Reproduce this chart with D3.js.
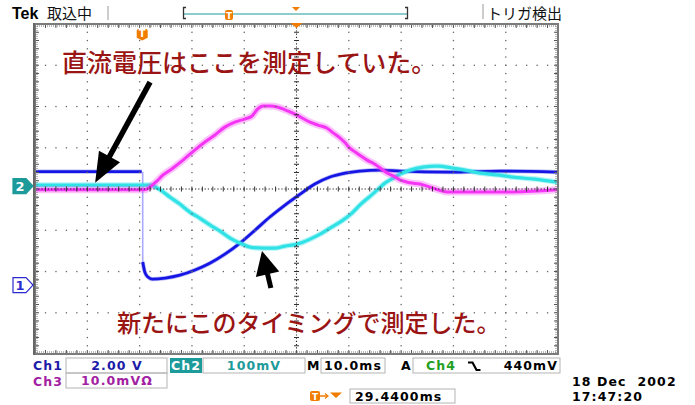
<!DOCTYPE html>
<html>
<head>
<meta charset="utf-8">
<script src="https://cdn.jsdelivr.net/npm/d3@7"></script>
<style>
  body { margin: 0; background: #fff; }
  svg { display: block; }
  text { white-space: pre; }
</style>
</head>
<body>
<svg id="scope" width="695" height="405"></svg>
<script>
// Time base: 10 ms/div, 10 divisions shown; trigger point at 20.5 ms.
const timeSpan = [0, 100];
const triggerTime = 20.5;

// Ch1 (V): supply voltage, before and after the step at the trigger
const ch1Before = [[0, 5.5], [20.4, 5.5]];
const ch1After = [
  [20.6, 1.12], [21.0, 0.63], [21.6, 0.39], [22.4, 0.29], [24.9, 0.34],
  [27.7, 0.48], [30.6, 0.73], [33.5, 1.07], [36.3, 1.50], [39.2, 2.04],
  [42.1, 2.67], [44.9, 3.30], [47.8, 3.88], [50.7, 4.41], [53.5, 4.90],
  [56.4, 5.24], [59.3, 5.43], [62.1, 5.53], [66.0, 5.58], [69.8, 5.53],
  [79.3, 5.48], [88.9, 5.53], [99.8, 5.48]
];

// Ch2 (mV)
const ch2Values = [
  [0, 2.4], [22.0, 2.4], [24.0, -9.7], [25.8, -26.7], [27.7, -43.6],
  [29.6, -63.0], [31.5, -77.6], [33.5, -94.5], [35.4, -109.1], [37.3, -126.1],
  [39.2, -138.2], [41.1, -147.9], [43.6, -150.3], [45.9, -150.3], [47.8, -145.4],
  [50.1, -140.6], [52.6, -128.5], [54.5, -116.4], [56.4, -101.8], [58.9, -82.4],
  [60.6, -65.4], [62.1, -46.1], [64.1, -24.2], [65.4, -9.7], [66.9, 7.3],
  [68.5, 19.4], [69.8, 29.1], [71.7, 38.8], [74.2, 46.1], [76.9, 48.5],
  [79.9, 43.6], [83.2, 36.4], [85.1, 31.5], [88.9, 26.7], [91.4, 21.8],
  [95.6, 17.0], [99.8, 9.7]
];

// Ch3 (mV)
const ch3Values = [
  [0, -0.2], [21.0, -0.2], [22.0, 0.5], [23.3, 1.9], [24.5, 3.4],
  [26.4, 5.1], [28.3, 7.0], [30.6, 9.5], [32.5, 11.4], [34.4, 13.1],
  [36.3, 15.0], [38.2, 16.2], [40.2, 17.0], [41.5, 17.7], [42.6, 19.4],
  [43.6, 20.1], [44.9, 20.1], [46.3, 19.9], [47.8, 19.2], [49.3, 18.4],
  [50.7, 17.5], [52.6, 16.2], [54.1, 15.5], [55.8, 14.8], [57.0, 13.6],
  [58.3, 12.4], [59.3, 11.2], [60.2, 9.9], [61.2, 9.0], [62.1, 8.2],
  [63.5, 7.0], [64.6, 6.3], [66.0, 5.1], [67.3, 3.9], [68.5, 3.2],
  [69.8, 2.2], [71.7, 1.5], [73.6, 1.2], [76.1, 0.2], [78.8, -0.7],
  [85.1, -0.7], [91.4, -0.7], [99.8, -0.2]
];

// Vertical settings: units per division and ground position (div from centre)
const ch1Setting = { perDiv: 2, position: -2.33, color: "#1616e4" };
const ch2Setting = { perDiv: 100, position: 0.07, color: "#30e2e6" };
const ch3Setting = { perDiv: 10, position: 0, color: "#f535f5" };

// Status readouts
const ch1Label = "2.00 V";
const ch2Label = "100mV";
const ch3Label = "10.0mVΩ";
const timeLabel = "10.0ms";
const trigLevelLabel = "440mV";
const trigPosLabel = "29.4400ms";
const dateLabel = "18 Dec  2002";
const clockLabel = "17:47:20";

// Notes written on the screen, with arrows (time ms, divisions)
const noteTop = "直流電圧はここを測定していた。";
const noteBottom = "新たにこのタイミングで測定した。";
const arrowTop = { from: [22.0, 2.59], to: [11.5, 0.15] };
const arrowBottom = { from: [45.1, -2.40], to: [43.4, -1.50] };

const svg = d3.select("#scope");
const X0 = 35, X1 = 558, Y0 = 24, Y1 = 354;
const x = d3.scaleLinear().domain(timeSpan).range([X0, X1]);
const yDiv = d3.scaleLinear().domain([4, -4]).range([Y0, Y1]);
const yCh = (s, v) => yDiv(s.position + v / s.perDiv);

const orange = "#f07d00";
const noteRed = "#9a1414";
const sans = "'DejaVu Sans', 'Liberation Sans', sans-serif";
const jp = "'Noto Sans CJK JP', sans-serif";

// ---------- traces ----------
const gTrace = svg.append("g");
function trace(data, s, core, halo, haloOpacity) {
  const line = d3.line().x(d => x(d[0])).y(d => yCh(s, d[1])).curve(d3.curveMonotoneX);
  gTrace.append("path").attr("d", line(data)).attr("fill", "none")
    .attr("stroke", s.color).attr("stroke-width", halo).attr("stroke-opacity", haloOpacity)
    .attr("stroke-linejoin", "round");
  gTrace.append("path").attr("d", line(data)).attr("fill", "none")
    .attr("stroke", s.color).attr("stroke-width", core).attr("stroke-linejoin", "round");
}
// Ch1: fast edge shown as a faint vertical
const lastBefore = ch1Before[ch1Before.length - 1], firstAfter = ch1After[0];
gTrace.append("line")
  .attr("x1", x(lastBefore[0]) + 1).attr("x2", x(firstAfter[0]))
  .attr("y1", yCh(ch1Setting, lastBefore[1])).attr("y2", yCh(ch1Setting, firstAfter[1]))
  .attr("stroke", "#a9a9ff").attr("stroke-width", 1.6);
trace(ch1Before, ch1Setting, 2.8, 4.2, 0.3);
trace(ch1After, ch1Setting, 2.8, 4.2, 0.3);
trace(ch2Values, ch2Setting, 3.2, 5.5, 0.35);
trace(ch3Values, ch3Setting, 3.0, 7, 0.3);

// ---------- graticule ----------
const gGrid = svg.append("g");
const divW = (X1 - X0) / 10, divH = (Y1 - Y0) / 8;
const minW = divW / 5, minH = divH / 5;
const xc = X0 + 5 * divW, yc = Y0 + 4 * divH;

// dotted major lines
d3.range(1, 10).filter(i => i !== 5).forEach(i => {
  const gx = X0 + i * divW;
  gGrid.selectAll(null).data(d3.range(1, 40)).join("rect")
    .attr("x", gx - 0.6).attr("y", k => Y0 + k * minH - 0.6)
    .attr("width", 1.3).attr("height", 1.3).attr("fill", "#666");
});
d3.range(1, 8).filter(j => j !== 4).forEach(j => {
  const gy = Y0 + j * divH;
  gGrid.selectAll(null).data(d3.range(1, 50)).join("rect")
    .attr("x", k => X0 + k * minW - 0.6).attr("y", gy - 0.6)
    .attr("width", 1.3).attr("height", 1.3).attr("fill", "#666");
});
// centre cross with minor ticks
gGrid.append("line").attr("x1", X0).attr("x2", X1).attr("y1", yc).attr("y2", yc)
  .attr("stroke", "#222").attr("stroke-width", 1.1).attr("stroke-dasharray", "1.2,2");
gGrid.append("line").attr("x1", xc).attr("x2", xc).attr("y1", Y0).attr("y2", Y1)
  .attr("stroke", "#222").attr("stroke-width", 1.1).attr("stroke-dasharray", "1.2,2");
gGrid.selectAll(null).data(d3.range(1, 50)).join("line")
  .attr("x1", k => X0 + k * minW).attr("x2", k => X0 + k * minW)
  .attr("y1", yc - 2.5).attr("y2", yc + 2.5).attr("stroke", "#333").attr("stroke-width", 1);
gGrid.selectAll(null).data(d3.range(1, 40)).join("line")
  .attr("y1", k => Y0 + k * minH).attr("y2", k => Y0 + k * minH)
  .attr("x1", xc - 2.5).attr("x2", xc + 2.5).attr("stroke", "#333").attr("stroke-width", 1);

// edge rulers
const ruler = (x1, y1, x2, y2) => gGrid.append("line")
  .attr("x1", x1).attr("y1", y1).attr("x2", x2).attr("y2", y2)
  .attr("stroke", "#777").attr("stroke-width", 1).attr("stroke-dasharray", "1,1");
ruler(X0, Y0 + 2, X1, Y0 + 2);
ruler(X0, Y1 - 2, X1, Y1 - 2);
ruler(X0 + 2, Y0, X0 + 2, Y1);
ruler(X1 - 2, Y0, X1 - 2, Y1);
gGrid.selectAll(null).data(d3.range(1, 50)).join("g").each(function (k) {
  const g = d3.select(this), px = X0 + k * minW;
  g.append("line").attr("x1", px).attr("x2", px).attr("y1", Y0).attr("y2", Y0 + 4).attr("stroke", "#555");
  g.append("line").attr("x1", px).attr("x2", px).attr("y1", Y1 - 4).attr("y2", Y1).attr("stroke", "#555");
});
gGrid.selectAll(null).data(d3.range(1, 40)).join("g").each(function (k) {
  const g = d3.select(this), py = Y0 + k * minH;
  g.append("line").attr("y1", py).attr("y2", py).attr("x1", X0).attr("x2", X0 + 4).attr("stroke", "#555");
  g.append("line").attr("y1", py).attr("y2", py).attr("x1", X1 - 4).attr("x2", X1).attr("stroke", "#555");
});
// frame
gGrid.append("rect").attr("x", X0).attr("y", Y0).attr("width", X1 - X0).attr("height", Y1 - Y0)
  .attr("fill", "none").attr("stroke", "#7b7b7b").attr("stroke-width", 2);
gGrid.append("line").attr("x1", X0 - 1).attr("x2", X0 - 1).attr("y1", Y0 - 1).attr("y2", Y1 + 1)
  .attr("stroke", "#666").attr("stroke-width", 2);

// ---------- markers ----------
// trigger position marker inside the graticule
const tx = x(triggerTime);
const tMark = (cx, top, s) => {
  const g = svg.append("g");
  g.append("path")
    .attr("d", `M${cx - 5 * s},${top + 1.5 * s} q0,-${1.5 * s} ${1.5 * s},-${1.5 * s} h${7 * s} q${1.5 * s},0 ${1.5 * s},${1.5 * s} v${6.5 * s} l-${5 * s},${2.5 * s} l-${5 * s},-${2.5 * s} z`)
    .attr("fill", orange);
  g.append("text").attr("x", cx).attr("y", top + 7.4 * s).attr("text-anchor", "middle")
    .attr("font-family", sans).attr("font-weight", "bold").attr("font-size", 9 * s)
    .attr("fill", "#fff").text("T");
  return g;
};
tMark(tx, 29, 1.1);
// trigger point at top ruler
svg.append("path").attr("d", `M${xc - 6},${Y0 - 1} h12 l-6,5 z`).attr("fill", orange);

// channel ground markers
const chMarker = (label, yPos, fill, stroke, textColor) => {
  svg.append("path")
    .attr("d", `M13,${yPos - 7.5} h13 l7,7.5 l-7,7.5 h-13 z`)
    .attr("fill", fill).attr("stroke", stroke).attr("stroke-width", 1.2);
  svg.append("text").attr("x", 20).attr("y", yPos + 5).attr("text-anchor", "middle")
    .attr("font-family", sans).attr("font-weight", "bold").attr("font-size", 13)
    .attr("fill", textColor).text(label);
};
chMarker("2", yDiv(ch2Setting.position), "#1d9a9a", "#1d9a9a", "#fff");
chMarker("1", yDiv(ch1Setting.position), "#fff", "#2a2ad0", "#2a2ad0");

// ---------- header ----------
svg.append("text").attr("x", 12).attr("y", 19).attr("font-family", "'Liberation Sans', Arial, sans-serif")
  .attr("font-weight", "bold").attr("font-size", 16).attr("fill", "#000").text("Tek");
svg.append("text").attr("x", 47).attr("y", 19).attr("font-family", jp)
  .attr("font-size", 15).attr("fill", "#111").text("取込中");
svg.append("line").attr("x1", 108).attr("x2", 108).attr("y1", 6).attr("y2", 20).attr("stroke", "#999");
svg.append("line").attr("x1", 483).attr("x2", 483).attr("y1", 4).attr("y2", 19).attr("stroke", "#999");
svg.append("text").attr("x", 487).attr("y", 19).attr("font-family", jp)
  .attr("font-size", 15).attr("fill", "#111").text("トリガ検出");
// record view bar
svg.append("line").attr("x1", 184).attr("x2", 407).attr("y1", 14).attr("y2", 14)
  .attr("stroke", "#8ccccc").attr("stroke-width", 2.2);
svg.append("path").attr("d", "M186,7.5 h-2.5 v11 h2.5").attr("fill", "none").attr("stroke", "#333").attr("stroke-width", 1.3);
svg.append("path").attr("d", "M405,7.5 h2.5 v11 h-2.5").attr("fill", "none").attr("stroke", "#333").attr("stroke-width", 1.3);
svg.append("rect").attr("x", 225).attr("y", 10).attr("width", 8).attr("height", 10).attr("rx", 2).attr("fill", orange);
svg.append("text").attr("x", 229).attr("y", 18.5).attr("text-anchor", "middle").attr("font-family", sans)
  .attr("font-weight", "bold").attr("font-size", 9).attr("fill", "#fff").text("T");
svg.append("path").attr("d", "M292,7 h8 l-4,4 z").attr("fill", orange);

// ---------- notes and arrows ----------
svg.append("text").attr("x", 62).attr("y", 72).attr("font-family", jp).attr("font-size", 25)
  .attr("font-weight", 500).attr("fill", noteRed).text(noteTop);
svg.append("text").attr("x", 117).attr("y", 332).attr("font-family", jp).attr("font-size", 24)
  .attr("font-weight", 500).attr("fill", noteRed).text(noteBottom);

function arrow(a, headLen, headHalf, shaft) {
  const p0 = [x(a.from[0]), yDiv(a.from[1])], p1 = [x(a.to[0]), yDiv(a.to[1])];
  const dx = p1[0] - p0[0], dy = p1[1] - p0[1], len = Math.hypot(dx, dy);
  const ux = dx / len, uy = dy / len, nx = -uy, ny = ux;
  const bx = p1[0] - ux * headLen, by = p1[1] - uy * headLen;
  svg.append("line").attr("x1", p0[0]).attr("y1", p0[1]).attr("x2", bx + ux * 2).attr("y2", by + uy * 2)
    .attr("stroke", "#000").attr("stroke-width", shaft);
  svg.append("path")
    .attr("d", `M${p1[0]},${p1[1]} L${bx + nx * headHalf},${by + ny * headHalf} L${bx - nx * headHalf},${by - ny * headHalf} Z`)
    .attr("fill", "#000");
}
arrow(arrowTop, 30, 12, 5.5);
arrow(arrowBottom, 24, 12, 5);

// ---------- status readout ----------
const st = { "font-family": sans, "font-weight": "bold", "font-size": 12.5, "letter-spacing": 1.1 };
const txt = (s, px, py, color, anchor) => {
  const t = svg.append("text").attr("x", px).attr("y", py).attr("fill", color)
    .attr("text-anchor", anchor || "start").text(s);
  Object.entries(st).forEach(([k, v]) => t.attr(k, v));
  return t;
};
const box = (bx, by, w, h) => svg.append("rect").attr("x", bx).attr("y", by).attr("width", w).attr("height", h)
  .attr("fill", "none").attr("stroke", "#b4b4b4").attr("stroke-width", 1);

txt("Ch1", 33, 370, "#1c1ca8");
box(66, 358, 101, 15); txt(ch1Label, 117, 370, "#1c1ca8", "middle");
svg.append("rect").attr("x", 170).attr("y", 358).attr("width", 32).attr("height", 15).attr("fill", "#1d9a9a");
txt("Ch2", 186, 370, "#fff", "middle");
box(203, 358, 102, 15); txt(ch2Label, 254, 370, "#1d9a9a", "middle");
txt("M", 307, 370, "#000");
box(321, 358, 64, 15); txt(timeLabel, 353, 370, "#000", "middle");
txt("A", 401, 370, "#000");
box(413, 358, 147, 15);
txt("Ch4", 426, 370, "#1fa01f");
svg.append("path").attr("d", "M468,362.5 h4.5 l4,7.5 h4").attr("fill", "none").attr("stroke", "#000").attr("stroke-width", 2.2);
txt(trigLevelLabel, 558, 370, "#000", "end");

txt("Ch3", 33, 386, "#a21ea2");
box(66, 373, 101, 15); txt(ch3Label, 117, 385, "#a21ea2", "middle");

svg.append("rect").attr("x", 310).attr("y", 391).attr("width", 10).attr("height", 10).attr("rx", 2).attr("fill", orange);
svg.append("text").attr("x", 315).attr("y", 399.5).attr("text-anchor", "middle").attr("font-family", sans)
  .attr("font-weight", "bold").attr("font-size", 9).attr("fill", "#fff").text("T");
svg.append("line").attr("x1", 320).attr("x2", 327).attr("y1", 396).attr("y2", 396).attr("stroke", orange).attr("stroke-width", 1.5);
svg.append("path").attr("d", "M325,393.5 l3,2.5 l-3,2.5").attr("fill", "none").attr("stroke", orange).attr("stroke-width", 1.2);
svg.append("path").attr("d", "M330,392.5 h12 l-6,5.5 z").attr("fill", orange);
box(350, 389, 105, 14); txt(trigPosLabel, 355, 401, "#000");

const dt = svg.append("text").attr("x", 572).attr("y", 386).attr("fill", "#000").text(dateLabel);
Object.entries(st).forEach(([k, v]) => dt.attr(k, v));
dt.attr("font-size", 12.5);
const ck = svg.append("text").attr("x", 572).attr("y", 401).attr("fill", "#000").text(clockLabel);
Object.entries(st).forEach(([k, v]) => ck.attr(k, v));
ck.attr("font-size", 12.5);
</script>
</body>
</html>
